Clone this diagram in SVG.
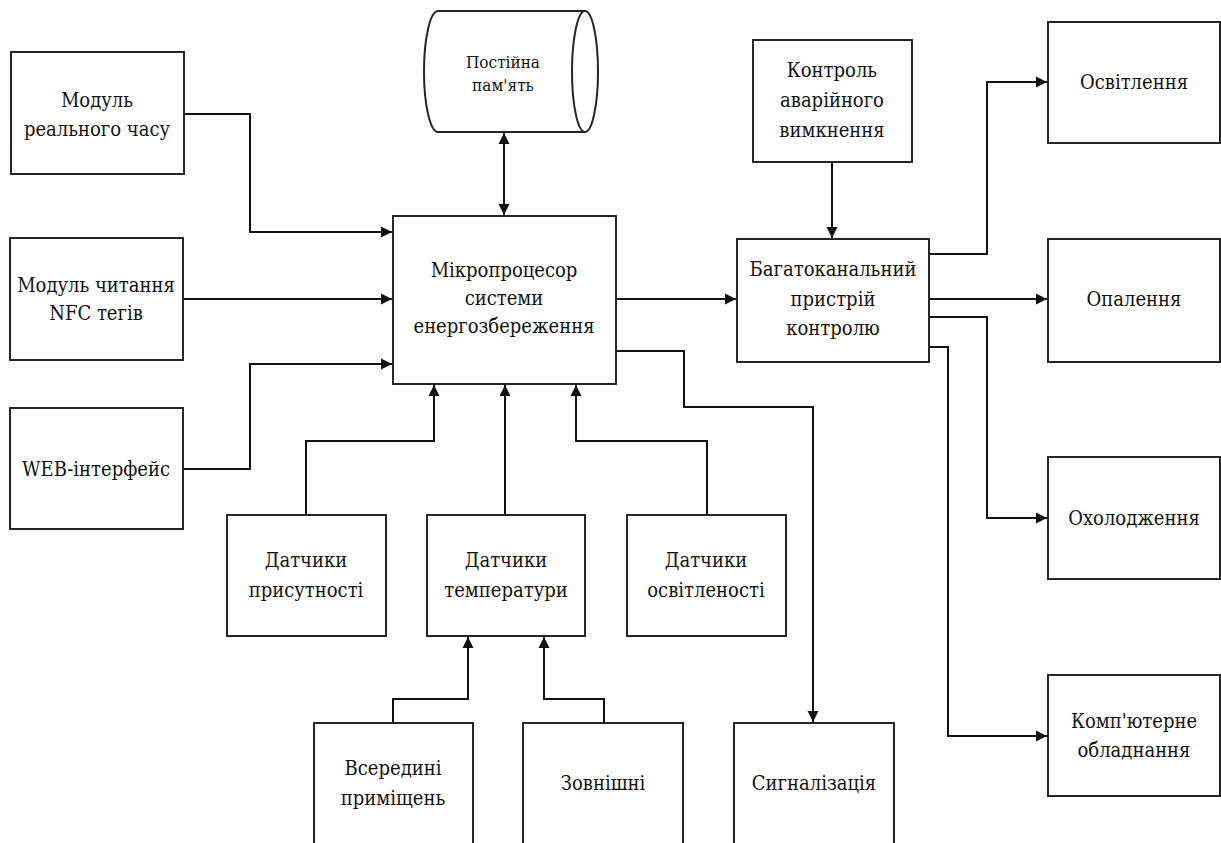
<svg xmlns="http://www.w3.org/2000/svg" width="1221" height="843" viewBox="0 0 1221 843">
<style>
.box{fill:#fff;stroke:#262626;stroke-width:2}
.c{fill:none;stroke:#111;stroke-width:2}
.t text{font-size:20px;fill:#111;text-anchor:middle;font-stretch:condensed}
.t text.s{font-size:17px}
</style>
<defs>
<marker id="a" markerUnits="userSpaceOnUse" markerWidth="12" markerHeight="12" refX="11" refY="6" orient="auto-start-reverse" viewBox="0 0 12 12">
<path d="M0,0.5 L11,6 L0,11.5 z" fill="#111"/>
</marker>
</defs>
<rect width="1221" height="843" fill="#fff"/>
<g id="connectors">
<path class="c" d="M184,114 H250 V232 H392" marker-end="url(#a)"/>
<path class="c" d="M183,299 H392" marker-end="url(#a)"/>
<path class="c" d="M183,469 H250 V364 H392" marker-end="url(#a)"/>
<path class="c" d="M504,133 V215" marker-start="url(#a)" marker-end="url(#a)"/>
<path class="c" d="M306,515 V441 H434 V385" marker-end="url(#a)"/>
<path class="c" d="M505,515 V385" marker-end="url(#a)"/>
<path class="c" d="M707,515 V441 H576 V385" marker-end="url(#a)"/>
<path class="c" d="M393,723 V699 H468 V637" marker-end="url(#a)"/>
<path class="c" d="M604,723 V699 H544 V637" marker-end="url(#a)"/>
<path class="c" d="M616,299 H736" marker-end="url(#a)"/>
<path class="c" d="M616,351 H684 V407 H813 V722" marker-end="url(#a)"/>
<path class="c" d="M832,162 V238" marker-end="url(#a)"/>
<path class="c" d="M929,254 H987 V82 H1047" marker-end="url(#a)"/>
<path class="c" d="M929,299 H1047" marker-end="url(#a)"/>
<path class="c" d="M929,317 H987 V518 H1047" marker-end="url(#a)"/>
<path class="c" d="M929,347 H948 V736 H1047" marker-end="url(#a)"/>
</g>
<g class="t" font-family="DejaVu Serif Condensed, DejaVu Serif, serif">
<g id="rtc"><rect class="box" x="11" y="52" width="173" height="122"/><text x="97" y="107">Модуль</text><text x="97" y="136">реального часу</text></g>
<g id="nfc"><rect class="box" x="10" y="238" width="173" height="122"/><text x="96" y="292">Модуль читання</text><text x="96" y="320">NFC тегів</text></g>
<g id="web"><rect class="box" x="10" y="408" width="173" height="121"/><text x="96" y="476">WEB-інтерфейс</text></g>
<g id="rom"><path class="box" d="M585,11 L438,11 A14,60.5 0 0 0 438,132 L585,132"/><ellipse class="box" cx="585" cy="71.5" rx="13" ry="60.5"/><text class="s" x="503" y="68">Постійна</text><text class="s" x="503" y="91">пам'ять</text></g>
<g id="mcu"><rect class="box" x="393" y="216" width="223" height="168"/><text x="504" y="277">Мікропроцесор</text><text x="504" y="305">системи</text><text x="504" y="333">енергозбереження</text></g>
<g id="emergency"><rect class="box" x="753" y="40" width="159" height="122"/><text x="832" y="77">Контроль</text><text x="832" y="107">аварійного</text><text x="832" y="137">вимкнення</text></g>
<g id="multichannel"><rect class="box" x="737" y="239" width="192" height="123"/><text x="833" y="276">Багатоканальний</text><text x="833" y="306">пристрій</text><text x="833" y="335">контролю</text></g>
<g id="lighting"><rect class="box" x="1048" y="22" width="172" height="121"/><text x="1134" y="89">Освітлення</text></g>
<g id="heating"><rect class="box" x="1048" y="239" width="172" height="123"/><text x="1134" y="306">Опалення</text></g>
<g id="cooling"><rect class="box" x="1048" y="457" width="172" height="122"/><text x="1134" y="525">Охолодження</text></g>
<g id="computers"><rect class="box" x="1048" y="675" width="172" height="121"/><text x="1134" y="728">Комп'ютерне</text><text x="1134" y="757">обладнання</text></g>
<g id="presence"><rect class="box" x="227" y="515" width="159" height="121"/><text x="306" y="567">Датчики</text><text x="306" y="597">присутності</text></g>
<g id="temperature"><rect class="box" x="427" y="515" width="158" height="121"/><text x="506" y="567">Датчики</text><text x="506" y="597">температури</text></g>
<g id="illumination"><rect class="box" x="627" y="515" width="159" height="121"/><text x="706" y="567">Датчики</text><text x="706" y="597">освітленості</text></g>
<g id="indoor"><rect class="box" x="314" y="723" width="159" height="135"/><text x="393" y="775">Всередині</text><text x="393" y="805">приміщень</text></g>
<g id="outdoor"><rect class="box" x="523" y="723" width="160" height="135"/><text x="603" y="790">Зовнішні</text></g>
<g id="alarm"><rect class="box" x="734" y="723" width="160" height="135"/><text x="814" y="790">Сигналізація</text></g>
</g>
</svg>
